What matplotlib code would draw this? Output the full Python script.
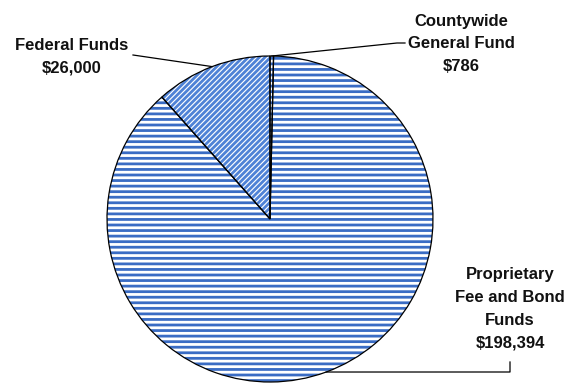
import numpy as np
import matplotlib.pyplot as plt

# slice data, clockwise from 12 o'clock
labels = ['Countywide\nGeneral Fund\n$786',
          'Proprietary\nFee and Bond\nFunds\n$198,394',
          'Federal Funds\n$26,000']
values = [786, 198394, 26000]

#=================================================================================================
plt.rcParams['hatch.linewidth'] = 2.0
blue = '#3a6cc4'

W, H = 574, 384
fig = plt.figure(figsize=(W / 100, H / 100), dpi=100)
ax = fig.add_axes([0, 0, 1, 1])

cx, cy, r = 270, H - 219, 163
hatches = ['---', '---', '//////']
hcolors = [blue, blue, '#4f82d6']

# hatched fills (hatch colour follows edgecolor)
wedges, _ = ax.pie(values, startangle=90, counterclock=False, center=(cx, cy),
                   radius=r, colors=['white'] * 3, frame=True,
                   wedgeprops=dict(linewidth=0))
for w, h, c in zip(wedges, hatches, hcolors):
    w.set_hatch(h)
    w.set_edgecolor(c)
# black outlines on top
ax.pie(values, startangle=90, counterclock=False, center=(cx, cy), radius=r,
       colors=['none'] * 3, frame=True,
       wedgeprops=dict(edgecolor='black', linewidth=0.9, fill=False))
ax.set_xlim(0, W)
ax.set_ylim(0, H)
ax.set_aspect('equal')
ax.axis('off')

# leader lines from the middle of each wedge's arc to the label
def edge(w):
    a = np.deg2rad((w.theta1 + w.theta2) / 2)
    return cx + r * np.cos(a), cy + r * np.sin(a)

font = dict(family=['Liberation Sans', 'DejaVu Sans'], fontweight='bold',
            fontsize=12, ha='center', va='center', linespacing=1.65,
            color='#111111')

# Countywide
x0, y0 = edge(wedges[0])
ax.plot([x0, 397, 405], [y0, H - 43, H - 43], color='black', lw=0.9)
ax.text(461, H - 44, labels[0], **font)

# Proprietary
x0, y0 = edge(wedges[1])
ax.plot([x0, 510, 510], [y0, H - 372, H - 362], color='black', lw=0.9)
ax.text(510, H - 309, labels[1], **font)

# Federal
x0, y0 = edge(wedges[2])
ax.plot([x0, 133], [y0, H - 55], color='black', lw=0.9)
ax.text(72, H - 57, labels[2], **font)

fig.savefig('out.png', dpi=100)
